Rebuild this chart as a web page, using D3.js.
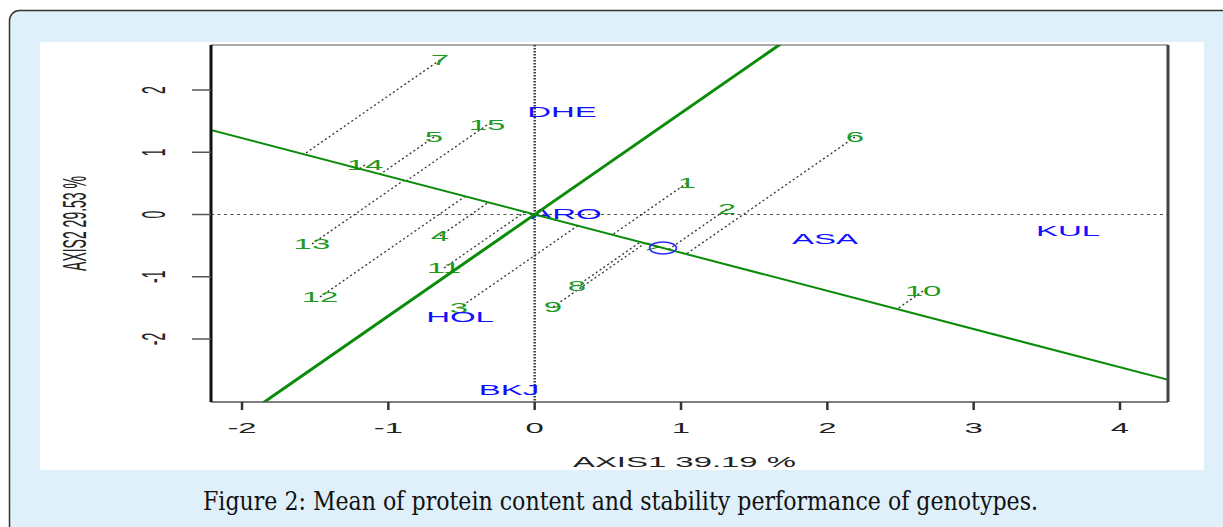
<!DOCTYPE html>
<html>
<head>
<meta charset="utf-8">
<script src="https://cdn.jsdelivr.net/npm/d3@7"></script>
<style>
  html, body { margin: 0; padding: 0; background: #fff; }
  svg { display: block; }
</style>
</head>
<body>
<svg id="chart"></svg>
<script>
// genotype scores (AXIS1, AXIS2)
const genotypes = ["1", "2", "3", "4", "5", "6", "7", "8", "9", "10", "11", "12", "13", "14", "15"];
const genoX = [1.041, 1.314, -0.517, -0.647, -0.688, 2.189, -0.647, 0.289, 0.125, 2.654, -0.620, -1.467, -1.522, -1.160, -0.326];
const genoY = [0.506, 0.088, -1.502, -0.345, 1.245, 1.245, 2.482, -1.148, -1.486, -1.229, -0.860, -1.325, -0.474, 0.795, 1.438];

// environment scores
const environments = ["DHE", "ARO", "ASA", "KUL", "HOL", "BKJ"];
const envX = [0.187, 0.214, 1.984, 3.645, -0.510, -0.176];
const envY = [1.647, 0.008, -0.394, -0.265, -1.647, -2.819];

// average environment (small circle on the ATC line)
const avgEnv = [0.877, -0.538];

const xTicks = [-2, -1, 0, 1, 2, 3, 4];
const yTicks = [-2, -1, 0, 1, 2];
const xTitle = "AXIS1 39.19 %";
const yTitle = "AXIS2 29.53 %";
const caption = "Figure 2: Mean of protein content and stability performance of genotypes.";

const W = 1223, H = 527;
const plot = {left: 211, right: 1168, top: 45, bottom: 402};
const stretch = 2.35; // the figure is stretched horizontally

const svg = d3.select("#chart").attr("width", W).attr("height", H);

// page frame
svg.append("rect").attr("x", 9.5).attr("y", 10.5).attr("width", W + 20).attr("height", H + 20)
  .attr("rx", 10).attr("fill", "#dff0fa").attr("stroke", "#333").attr("stroke-width", 1.5);
svg.append("rect").attr("x", 40).attr("y", 42).attr("width", 1164).attr("height", 428).attr("fill", "#fff");

// scales
const x = d3.scaleLinear().domain([-2.212, 4.328]).range([plot.left, plot.right]);
const y = d3.scaleLinear().domain([-3.012, 2.723]).range([plot.bottom, plot.top]);

svg.append("clipPath").attr("id", "clip").append("rect")
  .attr("x", plot.left).attr("y", plot.top)
  .attr("width", plot.right - plot.left).attr("height", plot.bottom - plot.top);

const g = svg.append("g").attr("clip-path", "url(#clip)");

// zero reference lines
g.append("line").attr("x1", plot.left).attr("x2", plot.right).attr("y1", y(0)).attr("y2", y(0))
  .attr("stroke", "#555").attr("stroke-width", 1.2).attr("stroke-dasharray", "3,3.5");
g.append("line").attr("x1", x(0)).attr("x2", x(0)).attr("y1", plot.top).attr("y2", plot.bottom)
  .attr("stroke", "#333").attr("stroke-width", 2.4).attr("stroke-dasharray", "1.5,1.5");

// ATC abscissa direction
const len = Math.hypot(avgEnv[0], avgEnv[1]);
const ux = avgEnv[0] / len, uy = avgEnv[1] / len;

// projection of each genotype onto the ATC abscissa
const geno = genotypes.map((name, i) => {
  const d = genoX[i] * ux + genoY[i] * uy;
  return {name: name, x: genoX[i], y: genoY[i], px: d * ux, py: d * uy};
});

g.selectAll("line.proj").data(geno).join("line").attr("class", "proj")
  .attr("x1", d => x(d.x)).attr("y1", d => y(d.y))
  .attr("x2", d => x(d.px)).attr("y2", d => y(d.py))
  .attr("stroke", "#333").attr("stroke-width", 1.3).attr("stroke-dasharray", "2,2.6");

// labels: drawn in R size, then stretched like the figure
function label(sel, size) {
  sel.attr("text-anchor", "middle").attr("dy", "0.36em")
    .attr("font-family", "'Liberation Sans', Arial, sans-serif").attr("font-size", size);
}

g.selectAll("text.geno").data(geno).join("text").attr("class", "geno")
  .attr("transform", d => `translate(${x(d.x)},${y(d.y)}) scale(2.2,1)`)
  .attr("fill", "#1f9a1f").text(d => d.name).call(label, 15);

g.selectAll("text.env").data(environments).join("text").attr("class", "env")
  .attr("transform", (d, i) => `translate(${x(envX[i])},${y(envY[i])}) scale(2.2,1)`)
  .attr("fill", "#1010ff").text(d => d).call(label, 15);

// ATC abscissa and ordinate through the origin
g.append("line")
  .attr("x1", x(-10 * ux)).attr("y1", y(-10 * uy)).attr("x2", x(10 * ux)).attr("y2", y(10 * uy))
  .attr("stroke", "#0a8c0a").attr("stroke-width", 2);
g.append("line")
  .attr("x1", x(10 * uy)).attr("y1", y(-10 * ux)).attr("x2", x(-10 * uy)).attr("y2", y(10 * ux))
  .attr("stroke", "#0a8c0a").attr("stroke-width", 3);

// arrow head at the average environment
const ax = x(avgEnv[0]) - 4, ay = y(avgEnv[1]) - 1;
g.append("path")
  .attr("d", `M${ax - 12},${ay - 4} L${ax},${ay} L${ax - 12},${ay + 3}`)
  .attr("fill", "none").attr("stroke", "#0a8c0a").attr("stroke-width", 1.2);
g.append("ellipse").attr("cx", x(avgEnv[0])).attr("cy", y(avgEnv[1]))
  .attr("rx", 13.5).attr("ry", 6).attr("fill", "none").attr("stroke", "#2a2aff").attr("stroke-width", 1.5);

// box
svg.append("line").attr("x1", plot.left).attr("x2", plot.right).attr("y1", plot.top).attr("y2", plot.top)
  .attr("stroke", "#555").attr("stroke-width", 1);
svg.append("line").attr("x1", plot.left).attr("x2", plot.right).attr("y1", plot.bottom).attr("y2", plot.bottom)
  .attr("stroke", "#555").attr("stroke-width", 1.5);
svg.append("line").attr("x1", plot.left).attr("x2", plot.left).attr("y1", plot.top).attr("y2", plot.bottom)
  .attr("stroke", "#111").attr("stroke-width", 3);
svg.append("line").attr("x1", plot.right).attr("x2", plot.right).attr("y1", plot.top).attr("y2", plot.bottom)
  .attr("stroke", "#444").attr("stroke-width", 3);

// x axis
svg.selectAll("line.xtick").data(xTicks).join("line").attr("class", "xtick")
  .attr("x1", d => x(d)).attr("x2", d => x(d)).attr("y1", plot.bottom).attr("y2", plot.bottom + 8)
  .attr("stroke", "#333").attr("stroke-width", 2.5);
svg.selectAll("text.xtick").data(xTicks).join("text").attr("class", "xtick")
  .attr("transform", d => `translate(${x(d)},428) scale(${stretch},1)`)
  .attr("fill", "#222").text(d => d).call(label, 14);
svg.append("text").attr("transform", `translate(${(plot.left + plot.right) / 2 - 5},462) scale(${stretch},1)`)
  .attr("fill", "#222").text(xTitle).call(label, 14);

// y axis
svg.selectAll("line.ytick").data(yTicks).join("line").attr("class", "ytick")
  .attr("x1", plot.left - 19).attr("x2", plot.left).attr("y1", d => y(d)).attr("y2", d => y(d))
  .attr("stroke", "#555").attr("stroke-width", 1.5);
svg.selectAll("text.ytick").data(yTicks).join("text").attr("class", "ytick")
  .attr("transform", d => `translate(153,${y(d)}) scale(${stretch},1) rotate(-90)`)
  .attr("fill", "#222").text(d => d).call(label, 14);
svg.append("text").attr("transform", `translate(74,${(plot.top + plot.bottom) / 2}) scale(${stretch},1) rotate(-90)`)
  .attr("fill", "#222").text(yTitle).call(label, 14);

// caption
svg.append("text").attr("x", 203).attr("y", 510)
  .attr("font-family", "'DejaVu Serif Condensed', 'DejaVu Serif', serif").attr("font-size", 26)
  .attr("fill", "#111").attr("textLength", 835).attr("lengthAdjust", "spacingAndGlyphs")
  .text(caption);
</script>
</body>
</html>
